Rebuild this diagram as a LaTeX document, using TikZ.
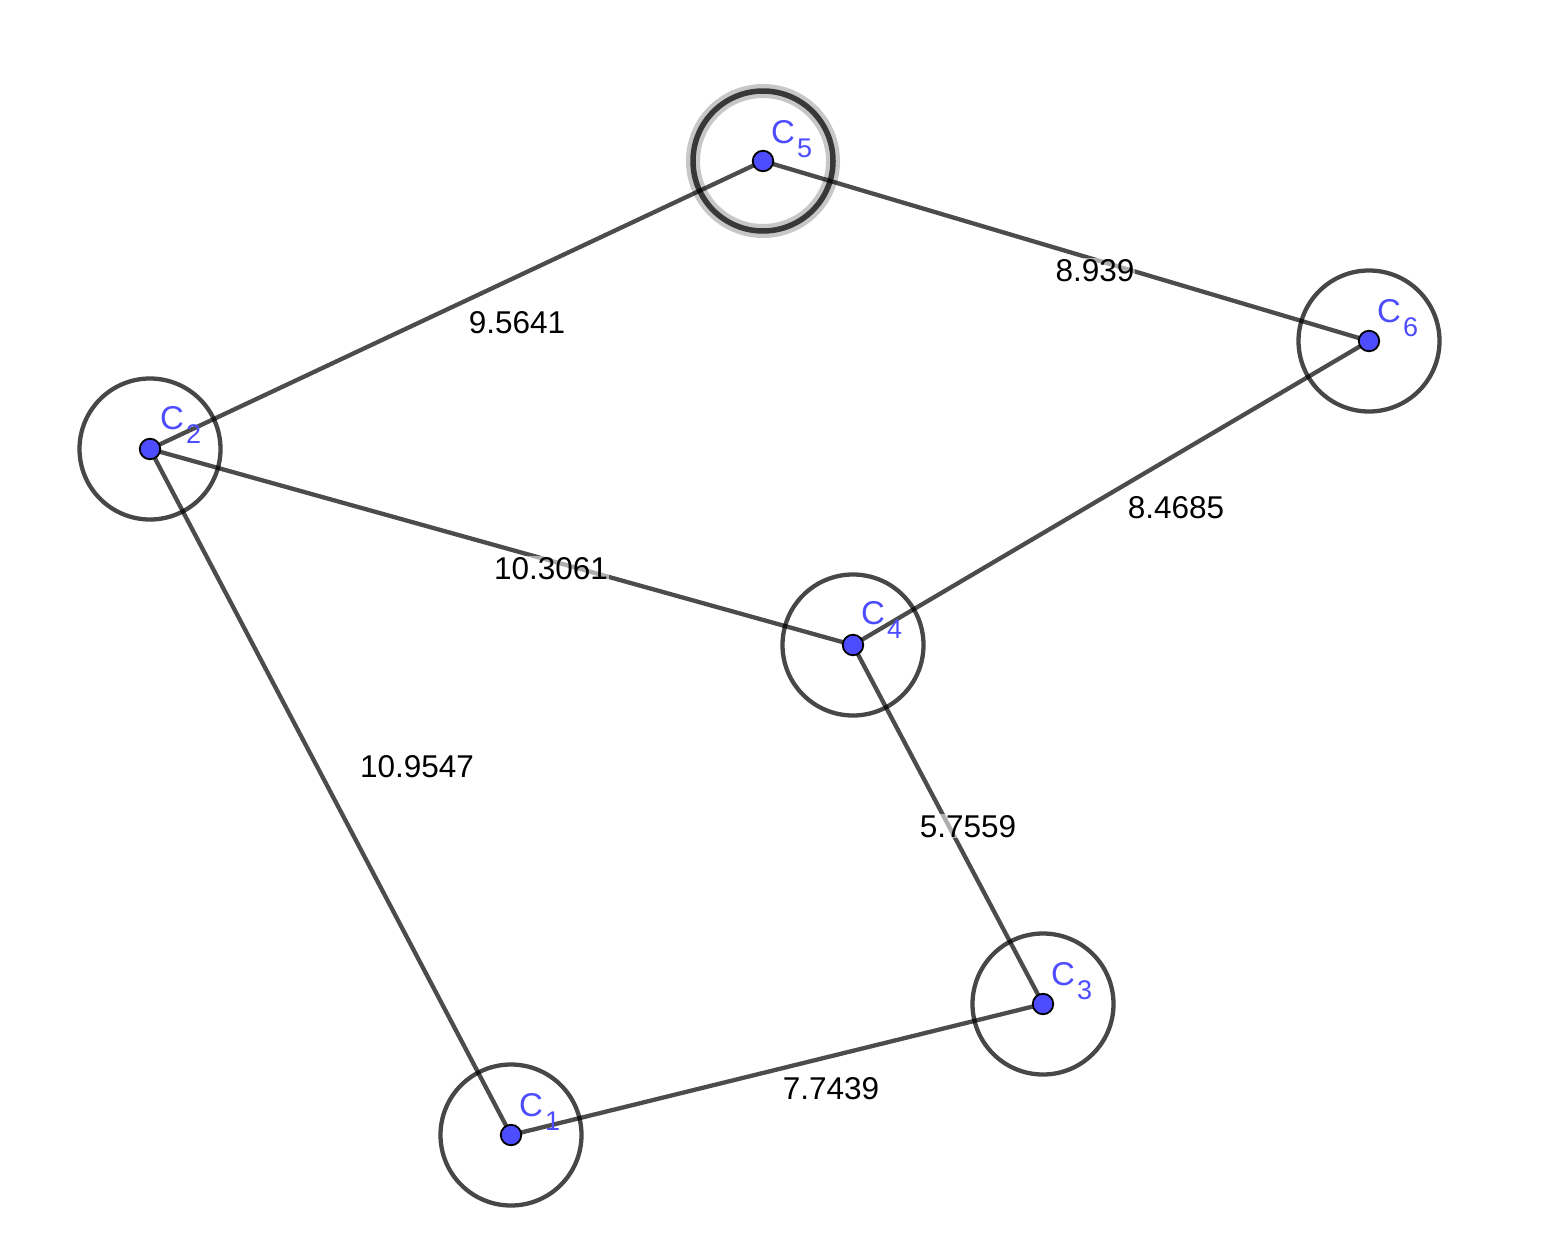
\documentclass[tikz,border=0pt]{standalone}
\usepackage{fontspec}
\setmainfont{Liberation Sans}
\definecolor{ptblue}{RGB}{77,77,255}
\begin{document}
\begin{tikzpicture}[x=1pt,y=-1pt,
  ring/.style={draw=black,draw opacity=0.72,line width=4.3pt},
  edge/.style={draw=black,draw opacity=0.7,line width=4.3pt},
  pt/.style={circle,fill=ptblue,draw=black,line width=1.8pt,minimum size=20.5pt,inner sep=0pt},
  vlab/.style={anchor=base west,text=ptblue,inner sep=0pt,font=\fontsize{33}{37}\selectfont},
  dist/.style={anchor=base,inner sep=1pt,fill=white,fill opacity=0.55,text opacity=1,font=\fontsize{31.5}{35}\selectfont}]
\useasboundingbox (0,0) rectangle (1557,1242);
\fill[white] (0,0) rectangle (1557,1242);
% centers
\coordinate (P1) at (511,1135);
\coordinate (P2) at (150,449);
\coordinate (P3) at (1043,1004);
\coordinate (P4) at (853,645);
\coordinate (P5) at (763,161);
\coordinate (P6) at (1369,341);
% circles
\draw[ring] (P1) circle[radius=70.5];
\draw[ring] (P2) circle[radius=70.5];
\draw[ring] (P3) circle[radius=70.5];
\draw[ring] (P4) circle[radius=70.5];
\draw[ring] (P6) circle[radius=70.5];
\draw[draw=black!22,line width=14pt] (P5) circle[radius=70];
\draw[draw=black!78,line width=5.5pt] (P5) circle[radius=70];
% edges
\draw[edge] (P2) -- (P5);
\draw[edge] (P5) -- (P6);
\draw[edge] (P6) -- (P4);
\draw[edge] (P2) -- (P4);
\draw[edge] (P2) -- (P1);
\draw[edge] (P4) -- (P3);
\draw[edge] (P1) -- (P3);
% distance labels
\node[dist] (d25) at (517,333) {9.5641};
\node[dist] (d56) at (1095,281) {8.939};
\node[dist] (d24) at (551,579) {10.3061};
\node[dist] (d46) at (1176,518) {8.4685};
\node[dist] (d21) at (417,777) {10.9547};
\node[dist] (d43) at (968,837) {5.7559};
\node[dist] (d13) at (831,1099) {7.7439};
% points
\node[pt] (C1) at (P1) {};
\node[pt] (C2) at (P2) {};
\node[pt] (C3) at (P3) {};
\node[pt] (C4) at (P4) {};
\node[pt] (C5) at (P5) {};
\node[pt] (C6) at (P6) {};
% vertex labels
\newcommand{\vsub}[1]{\hspace{2pt}\raisebox{-14pt}{\fontsize{27}{29}\selectfont #1}}
\node[vlab] (L1) at (519,1116) {C\vsub{1}};
\node[vlab] (L2) at (160,429) {C\vsub{2}};
\node[vlab] (L3) at (1051,985) {C\vsub{3}};
\node[vlab] (L4) at (861,624) {C\vsub{4}};
\node[vlab] (L5) at (771,143) {C\vsub{5}};
\node[vlab] (L6) at (1377,322) {C\vsub{6}};
\end{tikzpicture}
\end{document}
